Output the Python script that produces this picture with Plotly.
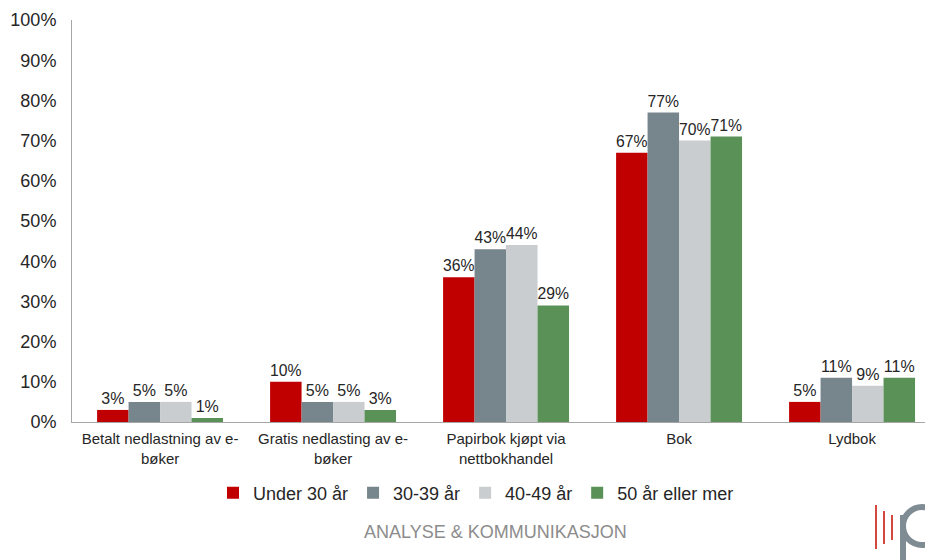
import plotly.graph_objects as go

# Survey: share of respondents per channel, split by age group (percent)
categories = [
    "Betalt nedlastning av e-<br>bøker",
    "Gratis nedlasting av e-<br>bøker",
    "Papirbok kjøpt via<br>nettbokhandel",
    "Bok",
    "Lydbok",
]
age_groups = ["Under 30 år", "30-39 år", "40-49 år", "50 år eller mer"]
under_30 = [3, 10, 36, 67, 5]
age_30_39 = [5, 5, 43, 77, 11]
age_40_49 = [5, 5, 44, 70, 9]
age_50_plus = [1, 3, 29, 71, 11]
series_values = [under_30, age_30_39, age_40_49, age_50_plus]
series_colors = ["#C00000", "#77858D", "#C9CDD0", "#5A9157"]
y_ticks = list(range(0, 101, 10))

W, H = 925, 560
M_L, M_R, M_T, M_B = 72, 0, 20, 138
PLOT_W = W - M_L - M_R
PLOT_H = H - M_T - M_B
FONT = "Liberation Sans, Arial, sans-serif"
TEXT = "#262626"


def px_x(x):
    return (x - M_L) / PLOT_W


def px_y(y):
    return (H - M_B - y) / PLOT_H


fig = go.Figure()
for name, vals, color in zip(age_groups, series_values, series_colors):
    fig.add_trace(go.Bar(
        name=name,
        x=list(range(len(categories))),
        y=vals,
        marker=dict(color=color, line=dict(width=0)),
        text=[f"{v}%" for v in vals],
        textposition="outside",
        textfont=dict(family=FONT, size=16, color=TEXT),
        cliponaxis=False,
    ))

# one category slot is ~173 px wide; the last slot runs past the right edge
cat_px = 173.0
x_start = -0.509
fig.update_layout(
    width=W, height=H,
    margin=dict(l=M_L, r=M_R, t=M_T, b=M_B, pad=0),
    paper_bgcolor="white", plot_bgcolor="white",
    barmode="group", bargap=0.272, bargroupgap=0,
    font=dict(family=FONT, color=TEXT),
    showlegend=True,
    legend=dict(
        orientation="h", x=px_x(476), xanchor="center",
        y=px_y(493), yanchor="middle",
        font=dict(family=FONT, size=18, color=TEXT),
        itemwidth=30, traceorder="normal",
        bgcolor="rgba(0,0,0,0)",
    ),
    xaxis=dict(
        range=[x_start, x_start + PLOT_W / cat_px],
        tickmode="array",
        tickvals=list(range(len(categories))),
        ticktext=categories,
        tickfont=dict(family=FONT, size=15, color=TEXT),
        showline=True, linecolor="#A6A6A6", linewidth=1,
        showgrid=False, zeroline=False, ticks="",
        ticklabelstandoff=3,
        fixedrange=True,
    ),
    yaxis=dict(
        range=[0, 100],
        tickmode="array",
        tickvals=y_ticks,
        ticktext=[f"{t}%" for t in y_ticks],
        tickfont=dict(family=FONT, size=18, color=TEXT),
        showline=True, linecolor="#A6A6A6", linewidth=1,
        showgrid=False, zeroline=False, ticks="",
        ticklabelstandoff=11,
        fixedrange=True,
    ),
)

# footer wordmark
fig.add_annotation(
    text="ANALYSE &amp; KOMMUNIKASJON",
    xref="paper", yref="paper",
    x=px_x(495), y=px_y(532), xanchor="center", yanchor="middle",
    showarrow=False,
    font=dict(family=FONT, size=18, color="#8C8C8C"),
)

# logo: three red strokes and a grey "p"
for x0, y0, y1 in [(876, 505, 549), (884, 511, 544), (892, 515, 540)]:
    fig.add_shape(type="line", xref="paper", yref="paper",
                  x0=px_x(x0), x1=px_x(x0), y0=px_y(y0), y1=px_y(y1),
                  line=dict(color="#D2493F", width=2))
fig.add_shape(type="line", xref="paper", yref="paper",
              x0=px_x(903), x1=px_x(903), y0=px_y(515), y1=px_y(562),
              line=dict(color="#7F8C94", width=6))
fig.add_shape(type="circle", xref="paper", yref="paper",
              x0=px_x(903), x1=px_x(941), y0=px_y(507), y1=px_y(545),
              line=dict(color="#7F8C94", width=6))

fig.write_html("out.html")
